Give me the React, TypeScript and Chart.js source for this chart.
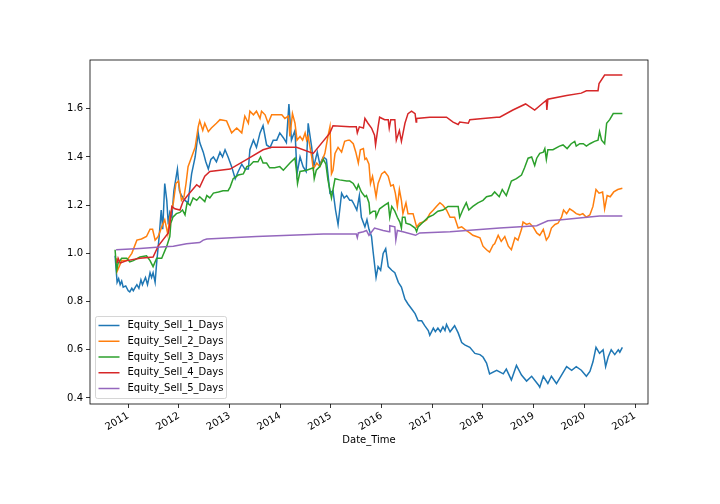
import React, { useEffect, useRef } from "react";
import { Chart, registerables } from "chart.js";

Chart.register(...registerables);

const seriesNames = [
  "Equity_Sell_1_Days",
  "Equity_Sell_2_Days",
  "Equity_Sell_3_Days",
  "Equity_Sell_4_Days",
  "Equity_Sell_5_Days",
];
const seriesColors = ["#1f77b4", "#ff7f0e", "#2ca02c", "#d62728", "#9467bd"];
const yearTicks = [2011, 2012, 2013, 2014, 2015, 2016, 2017, 2018, 2019, 2020, 2021];
const valueTicks = [0.4, 0.6, 0.8, 1.0, 1.2, 1.4, 1.6];
const xAxisTitle = "Date_Time";

// [decimal year, equity]
const sell1Days: [number, number][] = [
  [2010.74, 0.99], [2010.78, 0.88], [2010.81, 0.895], [2010.84, 0.87], [2010.87, 0.885], [2010.9, 0.86],
  [2010.95, 0.865], [2011.0, 0.845], [2011.03, 0.84], [2011.07, 0.855], [2011.1, 0.845], [2011.14, 0.86],
  [2011.17, 0.87], [2011.21, 0.855], [2011.25, 0.89], [2011.28, 0.87], [2011.3, 0.88], [2011.34, 0.9],
  [2011.38, 0.87], [2011.43, 0.92], [2011.46, 0.9], [2011.49, 0.92], [2011.53, 0.88], [2011.56, 0.96], [2011.61, 1.07],
  [2011.65, 1.18], [2011.68, 1.1], [2011.72, 1.29], [2011.76, 1.22], [2011.79, 1.12], [2011.82, 1.17],
  [2011.86, 1.15], [2011.9, 1.26], [2011.97, 1.35], [2012.01, 1.26], [2012.05, 1.24], [2012.12, 1.22],
  [2012.18, 1.21], [2012.25, 1.33], [2012.32, 1.4], [2012.38, 1.5], [2012.41, 1.46], [2012.48, 1.42],
  [2012.53, 1.38], [2012.58, 1.35], [2012.63, 1.39], [2012.68, 1.4], [2012.74, 1.38], [2012.81, 1.42],
  [2012.86, 1.4], [2012.91, 1.43], [2012.97, 1.4], [2013.04, 1.36],
  [2013.11, 1.31], [2013.17, 1.34], [2013.24, 1.37], [2013.3, 1.35], [2013.37, 1.35], [2013.4, 1.43],
  [2013.47, 1.47], [2013.53, 1.44], [2013.6, 1.5], [2013.66, 1.53], [2013.73, 1.45], [2013.8, 1.44],
  [2013.86, 1.47], [2013.93, 1.47], [2013.99, 1.5], [2014.06, 1.48], [2014.12, 1.46], [2014.17, 1.62],
  [2014.22, 1.47], [2014.29, 1.51], [2014.33, 1.33], [2014.39, 1.4], [2014.45, 1.36], [2014.51, 1.34],
  [2014.55, 1.54], [2014.62, 1.44], [2014.66, 1.36], [2014.73, 1.42], [2014.78, 1.37], [2014.85, 1.4],
  [2014.91, 1.39], [2014.98, 1.25], [2015.04, 1.26], [2015.09, 1.18], [2015.14, 1.12], [2015.21, 1.25],
  [2015.26, 1.23], [2015.31, 1.24], [2015.37, 1.22], [2015.41, 1.22], [2015.44, 1.21], [2015.51, 1.18], [2015.56, 1.24],
  [2015.6, 1.15], [2015.67, 1.11], [2015.71, 1.14], [2015.75, 1.1], [2015.8, 1.07], [2015.83, 1.01],
  [2015.89, 0.9], [2015.93, 0.945], [2015.98, 0.93], [2016.03, 1.0], [2016.08, 1.02], [2016.13, 0.945],
  [2016.2, 0.93], [2016.26, 0.92], [2016.33, 0.88], [2016.39, 0.86], [2016.46, 0.81], [2016.52, 0.79],
  [2016.59, 0.77], [2016.66, 0.75], [2016.72, 0.72], [2016.79, 0.72], [2016.85, 0.7], [2016.92, 0.68],
  [2016.95, 0.66], [2017.02, 0.69], [2017.06, 0.675], [2017.11, 0.69], [2017.16, 0.675], [2017.21, 0.695],
  [2017.25, 0.68], [2017.28, 0.705], [2017.35, 0.675],
  [2017.44, 0.7], [2017.51, 0.67], [2017.58, 0.63], [2017.64, 0.62], [2017.74, 0.61], [2017.84, 0.585],
  [2017.94, 0.58], [2018.0, 0.57], [2018.07, 0.545], [2018.13, 0.5], [2018.27, 0.515], [2018.4, 0.5],
  [2018.46, 0.52], [2018.56, 0.475], [2018.66, 0.535], [2018.76, 0.495], [2018.86, 0.47], [2018.96, 0.49],
  [2019.09, 0.455], [2019.12, 0.445], [2019.19, 0.49], [2019.28, 0.46], [2019.35, 0.49], [2019.45, 0.46],
  [2019.55, 0.495], [2019.65, 0.53], [2019.75, 0.515], [2019.84, 0.53], [2019.94, 0.515], [2020.04, 0.49],
  [2020.11, 0.51], [2020.17, 0.55], [2020.23, 0.61], [2020.3, 0.585], [2020.37, 0.6], [2020.42, 0.53],
  [2020.47, 0.57], [2020.53, 0.6], [2020.6, 0.58], [2020.67, 0.6], [2020.7, 0.59], [2020.75, 0.61],
];

const sell2Days: [number, number][] = [
  [2010.77, 0.98], [2010.78, 0.925], [2010.82, 0.945], [2010.87, 0.97], [2010.97, 0.97], [2011.07, 1.0],
  [2011.17, 1.055], [2011.26, 1.06], [2011.36, 1.07], [2011.43, 1.1], [2011.48, 1.1], [2011.53, 1.055],
  [2011.59, 1.07], [2011.66, 1.11], [2011.72, 1.14], [2011.78, 1.08], [2011.82, 1.15], [2011.89, 1.21],
  [2011.94, 1.29], [2011.99, 1.3], [2012.05, 1.22], [2012.1, 1.235], [2012.14, 1.29], [2012.18, 1.36],
  [2012.25, 1.4], [2012.32, 1.44], [2012.38, 1.525], [2012.41, 1.55], [2012.47, 1.51], [2012.51, 1.54],
  [2012.58, 1.505], [2012.64, 1.52], [2012.74, 1.54], [2012.81, 1.555], [2012.94, 1.55], [2013.04, 1.5],
  [2013.14, 1.52], [2013.24, 1.5], [2013.3, 1.57], [2013.37, 1.54], [2013.4, 1.59], [2013.47, 1.575],
  [2013.53, 1.59], [2013.6, 1.56], [2013.63, 1.59], [2013.7, 1.575], [2013.76, 1.54], [2013.83, 1.575],
  [2013.93, 1.575], [2014.03, 1.575], [2014.09, 1.56], [2014.16, 1.57], [2014.19, 1.485], [2014.24, 1.58],
  [2014.29, 1.54], [2014.33, 1.47], [2014.39, 1.485], [2014.44, 1.47], [2014.49, 1.5], [2014.52, 1.47],
  [2014.55, 1.485], [2014.62, 1.4], [2014.65, 1.35], [2014.72, 1.375], [2014.78, 1.36], [2014.88, 1.415],
  [2014.94, 1.485], [2014.98, 1.525], [2015.01, 1.33], [2015.04, 1.345], [2015.08, 1.415], [2015.14, 1.44],
  [2015.21, 1.42], [2015.27, 1.465], [2015.34, 1.47], [2015.37, 1.47], [2015.44, 1.455], [2015.49, 1.42],
  [2015.54, 1.375], [2015.58, 1.43], [2015.64, 1.435], [2015.67, 1.39], [2015.7, 1.395], [2015.75, 1.37],
  [2015.78, 1.29], [2015.82, 1.32], [2015.85, 1.285], [2015.89, 1.235], [2015.93, 1.29], [2016.0, 1.33],
  [2016.06, 1.34], [2016.13, 1.32], [2016.18, 1.28], [2016.23, 1.285], [2016.27, 1.25], [2016.31, 1.195],
  [2016.35, 1.265], [2016.39, 1.22], [2016.42, 1.165], [2016.48, 1.21], [2016.52, 1.165], [2016.62, 1.165],
  [2016.69, 1.11], [2016.75, 1.125], [2016.82, 1.13], [2016.89, 1.14], [2016.95, 1.165], [2017.02, 1.18],
  [2017.08, 1.195], [2017.15, 1.21], [2017.21, 1.2], [2017.28, 1.18], [2017.35, 1.15], [2017.44, 1.15],
  [2017.51, 1.105], [2017.58, 1.11], [2017.67, 1.095], [2017.74, 1.085], [2017.8, 1.075], [2017.87, 1.07],
  [2017.94, 1.065], [2018.0, 1.03], [2018.07, 1.015], [2018.13, 1.005], [2018.2, 1.035], [2018.23, 1.04],
  [2018.3, 1.075], [2018.36, 1.05], [2018.43, 1.07], [2018.5, 1.03], [2018.56, 1.015], [2018.63, 1.065],
  [2018.69, 1.055], [2018.76, 1.1], [2018.79, 1.13], [2018.86, 1.12], [2018.92, 1.125], [2018.99, 1.11],
  [2019.06, 1.085], [2019.12, 1.075], [2019.19, 1.1], [2019.25, 1.055], [2019.3, 1.07], [2019.35, 1.105],
  [2019.42, 1.12], [2019.48, 1.125], [2019.55, 1.15], [2019.59, 1.18], [2019.65, 1.165], [2019.71, 1.185],
  [2019.78, 1.175], [2019.84, 1.165], [2019.91, 1.16], [2019.97, 1.165], [2020.04, 1.15], [2020.11, 1.16],
  [2020.17, 1.195], [2020.23, 1.265], [2020.29, 1.25], [2020.36, 1.255], [2020.4, 1.185], [2020.45, 1.24],
  [2020.51, 1.235], [2020.58, 1.255], [2020.66, 1.265], [2020.75, 1.27],
];

const sell3Days: [number, number][] = [
  [2010.74, 1.015], [2010.77, 0.93], [2010.8, 0.96], [2010.87, 0.98], [2010.97, 0.98], [2011.03, 0.965],
  [2011.1, 0.97], [2011.23, 0.985], [2011.36, 0.99], [2011.43, 0.97], [2011.49, 0.945], [2011.56, 0.98],
  [2011.66, 0.98], [2011.76, 1.03], [2011.82, 1.07], [2011.84, 1.125], [2011.88, 1.15], [2011.95, 1.165],
  [2012.02, 1.17], [2012.07, 1.18], [2012.12, 1.16], [2012.16, 1.21], [2012.22, 1.2], [2012.28, 1.23],
  [2012.35, 1.22], [2012.41, 1.235], [2012.51, 1.215], [2012.55, 1.24], [2012.61, 1.23], [2012.68, 1.25],
  [2012.78, 1.255], [2012.87, 1.26], [2012.97, 1.26], [2013.01, 1.275], [2013.07, 1.31], [2013.17, 1.325],
  [2013.27, 1.33], [2013.34, 1.36], [2013.4, 1.365], [2013.47, 1.38], [2013.56, 1.38], [2013.61, 1.4],
  [2013.66, 1.375], [2013.73, 1.375], [2013.79, 1.355], [2013.89, 1.355], [2013.99, 1.36], [2014.06, 1.345],
  [2014.19, 1.375], [2014.29, 1.395], [2014.32, 1.34], [2014.34, 1.29], [2014.39, 1.34], [2014.52, 1.345],
  [2014.65, 1.355], [2014.67, 1.31], [2014.71, 1.345], [2014.78, 1.36], [2014.85, 1.39], [2014.9, 1.37],
  [2014.94, 1.305], [2015.01, 1.23], [2015.08, 1.31], [2015.17, 1.305], [2015.31, 1.3], [2015.37, 1.3],
  [2015.44, 1.29], [2015.51, 1.265], [2015.54, 1.285], [2015.6, 1.255], [2015.67, 1.235], [2015.7, 1.24],
  [2015.75, 1.21], [2015.77, 1.165], [2015.83, 1.175], [2015.88, 1.175], [2015.89, 1.15], [2015.96, 1.185],
  [2016.06, 1.2], [2016.13, 1.21], [2016.16, 1.15], [2016.2, 1.195], [2016.26, 1.175], [2016.31, 1.15],
  [2016.36, 1.13], [2016.39, 1.105], [2016.41, 1.15], [2016.46, 1.15], [2016.48, 1.125], [2016.56, 1.12],
  [2016.66, 1.105], [2016.69, 1.09], [2016.72, 1.11], [2016.82, 1.13], [2016.92, 1.15], [2017.02, 1.16],
  [2017.11, 1.175], [2017.21, 1.18], [2017.31, 1.195], [2017.41, 1.195], [2017.51, 1.195], [2017.54, 1.15],
  [2017.61, 1.185], [2017.67, 1.21], [2017.72, 1.18], [2017.8, 1.195], [2017.9, 1.21], [2018.0, 1.22],
  [2018.07, 1.235], [2018.17, 1.24], [2018.23, 1.255], [2018.32, 1.235], [2018.38, 1.265], [2018.46, 1.24],
  [2018.56, 1.3], [2018.66, 1.31], [2018.76, 1.325], [2018.82, 1.355], [2018.89, 1.395], [2018.96, 1.4],
  [2019.02, 1.365], [2019.06, 1.395], [2019.12, 1.415], [2019.19, 1.42], [2019.22, 1.435], [2019.25, 1.39],
  [2019.28, 1.43], [2019.38, 1.43], [2019.51, 1.445], [2019.58, 1.45], [2019.66, 1.435], [2019.74, 1.455],
  [2019.81, 1.465], [2019.84, 1.445], [2019.91, 1.455], [2019.98, 1.455], [2020.04, 1.445], [2020.11, 1.455],
  [2020.2, 1.465], [2020.27, 1.47], [2020.3, 1.505], [2020.34, 1.47], [2020.4, 1.455], [2020.44, 1.54],
  [2020.5, 1.555], [2020.57, 1.58], [2020.66, 1.58], [2020.75, 1.58],
];

const sell4Days: [number, number][] = [
  [2010.78, 0.96], [2010.8, 0.98], [2010.84, 0.96], [2010.97, 0.97], [2011.23, 0.98], [2011.49, 0.985],
  [2011.59, 1.03], [2011.79, 1.085], [2011.82, 1.12], [2011.86, 1.195], [2011.92, 1.185], [2012.02, 1.18],
  [2012.08, 1.215], [2012.15, 1.235], [2012.25, 1.26], [2012.35, 1.285], [2012.41, 1.275], [2012.51, 1.32],
  [2012.61, 1.34], [2012.81, 1.345], [2013.01, 1.35], [2013.34, 1.39], [2013.66, 1.43], [2013.83, 1.44],
  [2014.32, 1.44], [2014.65, 1.415], [2014.98, 1.5], [2015.04, 1.53], [2015.37, 1.525], [2015.5, 1.525],
  [2015.52, 1.5], [2015.56, 1.525], [2015.64, 1.52], [2015.67, 1.56], [2015.73, 1.54], [2015.8, 1.52],
  [2015.86, 1.49], [2015.88, 1.45], [2015.93, 1.525], [2015.96, 1.565], [2016.06, 1.555], [2016.13, 1.555],
  [2016.15, 1.52], [2016.18, 1.555], [2016.26, 1.555], [2016.29, 1.47], [2016.35, 1.51], [2016.39, 1.465],
  [2016.46, 1.54], [2016.52, 1.58], [2016.59, 1.59], [2016.66, 1.58], [2016.68, 1.545], [2016.69, 1.56],
  [2016.95, 1.565], [2017.28, 1.565], [2017.41, 1.545], [2017.51, 1.535], [2017.54, 1.545], [2017.71, 1.54],
  [2017.74, 1.555], [2018.0, 1.56], [2018.27, 1.565], [2018.33, 1.565], [2018.59, 1.595], [2018.84, 1.62],
  [2019.02, 1.595], [2019.19, 1.625], [2019.25, 1.635], [2019.26, 1.595], [2019.28, 1.64], [2019.65, 1.655],
  [2019.94, 1.665], [2020.04, 1.675], [2020.27, 1.675], [2020.29, 1.705], [2020.4, 1.74], [2020.75, 1.74],
];

const sell5Days: [number, number][] = [
  [2010.76, 1.015], [2011.23, 1.02], [2011.56, 1.025], [2011.89, 1.03], [2012.15, 1.04], [2012.41, 1.045],
  [2012.48, 1.055], [2012.55, 1.06], [2013.53, 1.07], [2014.19, 1.075], [2014.85, 1.08], [2015.37, 1.08],
  [2015.5, 1.08], [2015.52, 1.065], [2015.54, 1.085], [2015.64, 1.09], [2015.7, 1.095], [2015.75, 1.075],
  [2015.86, 1.105], [2016.03, 1.095], [2016.15, 1.09], [2016.16, 1.115], [2016.26, 1.11], [2016.28, 1.055],
  [2016.31, 1.095], [2016.42, 1.09], [2016.67, 1.075], [2016.75, 1.085], [2017.35, 1.09], [2018.33, 1.105],
  [2019.06, 1.115], [2019.28, 1.135], [2019.55, 1.14], [2020.3, 1.155], [2020.75, 1.155],
];

const allSeries = [sell1Days, sell2Days, sell3Days, sell4Days, sell5Days];

const FONT = "'DejaVu Sans', sans-serif";

const framePlugin = {
  id: "frame",
  afterDatasetsDraw(chart: any) {
    const { ctx, chartArea } = chart;
    ctx.save();
    ctx.strokeStyle = "#000";
    ctx.lineWidth = 0.8;
    ctx.strokeRect(chartArea.left, chartArea.top, chartArea.right - chartArea.left, chartArea.bottom - chartArea.top);
    ctx.restore();
  },
};

const legendPlugin = {
  id: "mplLegend",
  afterDraw(chart: any) {
    const { ctx, chartArea } = chart;
    const x0 = chartArea.left + 5.5;
    const h = 82;
    const w = 131;
    const y0 = chartArea.bottom - 5.5 - h;
    ctx.save();
    ctx.beginPath();
    ctx.roundRect(x0, y0, w, h, 2);
    ctx.fillStyle = "rgba(255,255,255,0.8)";
    ctx.fill();
    ctx.strokeStyle = "rgba(204,204,204,0.8)";
    ctx.lineWidth = 1;
    ctx.stroke();
    ctx.font = `10px ${FONT}`;
    ctx.textBaseline = "middle";
    ctx.textAlign = "left";
    seriesNames.forEach((name, i) => {
      const y = y0 + 9 + i * 15.75;
      ctx.beginPath();
      ctx.moveTo(x0 + 3, y);
      ctx.lineTo(x0 + 24, y);
      ctx.strokeStyle = seriesColors[i];
      ctx.lineWidth = 1.5;
      ctx.stroke();
      ctx.fillStyle = "#000";
      ctx.fillText(name, x0 + 32, y);
    });
    ctx.restore();
  },
};

export default function App() {
  const ref = useRef<HTMLCanvasElement>(null);
  useEffect(() => {
    if (!ref.current) return;
    const font = { family: FONT, size: 10 };
    const chart = new Chart(ref.current, {
      type: "line",
      data: {
        datasets: allSeries.map((s, i) => ({
          label: seriesNames[i],
          data: s.map(([x, y]) => ({ x, y })),
          borderColor: seriesColors[i],
          backgroundColor: seriesColors[i],
          borderWidth: 1.5,
          pointRadius: 0,
          tension: 0,
          fill: false,
          order: 4 - i,
        })),
      },
      options: {
        animation: false,
        responsive: false,
        layout: { padding: { top: 60, right: 72, left: 0, bottom: 0 } },
        plugins: { legend: { display: false }, tooltip: { enabled: false } },
        scales: {
          x: {
            type: "linear",
            min: 2010.245,
            max: 2021.256,
            afterBuildTicks: (s: any) => {
              s.ticks = yearTicks.map((v) => ({ value: v }));
            },
            afterFit: (s: any) => {
              s.height = 100;
            },
            grid: { display: true, drawOnChartArea: false, drawTicks: true, tickLength: 4, color: "#000", lineWidth: 0.8 },
            border: { display: false },
            ticks: {
              font,
              color: "#000",
              minRotation: 30,
              maxRotation: 30,
              autoSkip: false,
              padding: 2,
              callback: (v: any) => String(v),
            },
            title: { display: true, text: xAxisTitle, font, color: "#000", padding: { top: 0, bottom: 58 } },
          },
          y: {
            type: "linear",
            min: 0.375,
            max: 1.8025,
            afterBuildTicks: (s: any) => {
              s.ticks = valueTicks.map((v) => ({ value: v }));
            },
            afterFit: (s: any) => {
              s.width = 90;
            },
            grid: { display: true, drawOnChartArea: false, drawTicks: true, tickLength: 4, color: "#000", lineWidth: 0.8 },
            border: { display: false },
            ticks: {
              font,
              color: "#000",
              padding: 3,
              callback: (v: any) => Number(v).toFixed(1),
            },
          },
        },
      },
      plugins: [framePlugin, legendPlugin],
    } as any);
    return () => chart.destroy();
  }, []);
  return (
    <div style={{ position: "fixed", left: 0, top: 0, width: 720, height: 504, background: "#fff" }}>
      <canvas ref={ref} width={720} height={504} style={{ width: 720, height: 504 }} />
    </div>
  );
}
